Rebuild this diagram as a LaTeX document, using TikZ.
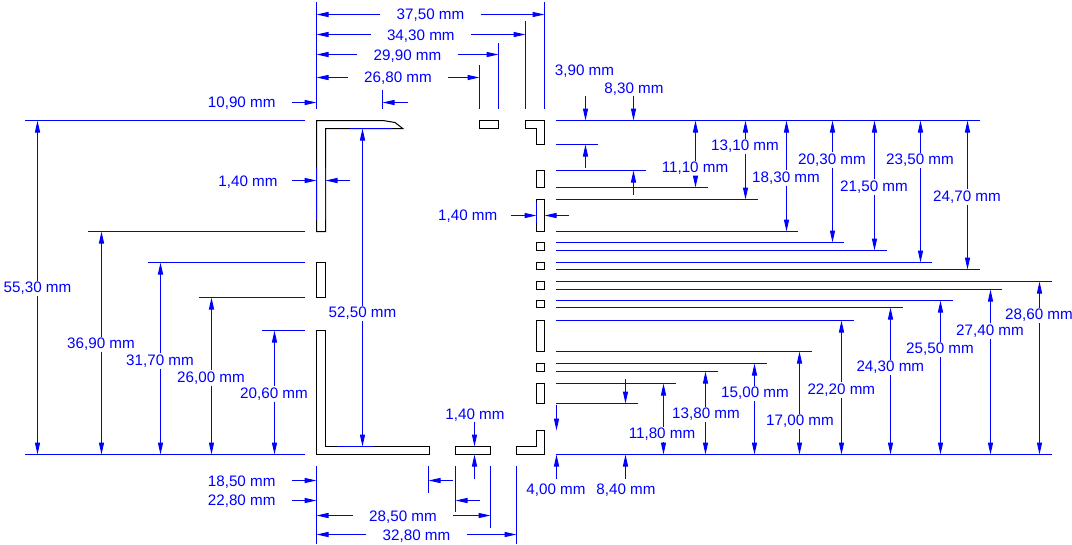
\documentclass[tikz,border=0pt]{standalone}
\usepackage{fontspec}
\setmainfont{Liberation Sans}
\usetikzlibrary{arrows.meta}
\definecolor{dimblue}{RGB}{0,0,255}
\tikzset{
  part/.style={draw=black,line width=.75pt,line join=miter,fill=white},
  extline/.style={draw=dimblue,line width=.75pt},
  dimline/.style={draw=dimblue,line width=.75pt,-{Triangle[length=9pt,width=3.8pt]}},
  lab/.style={text=dimblue,font=\fontsize{11.4}{13}\selectfont,inner sep=0pt,text height=8.2pt,text depth=1.8pt,align=center,yshift=-.7pt},
  vlab/.style={lab,inner ysep=.6pt,inner xsep=1pt},
  hlab/.style={lab,inner xsep=12pt},
}
% vertical dimension: name, x, ytop, ybottom, label x, label y, text
\newcommand{\vdim}[7]{%
  \node[vlab] (#1) at (#5,#6) {#7};
  \coordinate (#1-a) at (#2,#3);
  \coordinate (#1-b) at (#2,#4);
  \draw[dimline] (#1-a |- #1.north) -- (#1-a);
  \draw[dimline] (#1-b |- #1.south) -- (#1-b);
}
% horizontal dimension: name, y, xleft, xright, label x, label y, text
\newcommand{\hdim}[7]{%
  \node[hlab] (#1) at (#5,#6) {#7};
  \coordinate (#1-a) at (#3,#2);
  \coordinate (#1-b) at (#4,#2);
  \draw[dimline] (#1-a -| #1.west) -- (#1-a);
  \draw[dimline] (#1-b -| #1.east) -- (#1-b);
}
\newcommand{\hext}[3]{\draw[extline] (#2,#1) -- (#3,#1);}
\newcommand{\vext}[3]{\draw[extline] (#1,#2) -- (#1,#3);}
\newcommand{\slot}[4]{\draw[part] (#1,#3) rectangle (#2,#4);}
\begin{document}
\begin{tikzpicture}[x=.75pt,y=-.75pt]
\useasboundingbox (0,0) rectangle (1072,544);
% ---- parts
\draw[part] (316.5,120.5) -- (383,120.5) -- (395,122.5) -- (402.7,128.5) -- (325.5,128.5) -- (325.5,231.5) -- (316.5,231.5) -- cycle;
\slot{316.5}{325.5}{262.5}{297.5}
\draw[part] (316.5,330.5) -- (325.5,330.5) -- (325.5,446.5) -- (429.5,446.5) -- (429.5,454.5) -- (316.5,454.5) -- cycle;
\slot{455.5}{490.5}{446.5}{454.5}
\draw[part] (516.5,446.5) -- (536.5,446.5) -- (536.5,430.5) -- (544.5,430.5) -- (544.5,454.5) -- (516.5,454.5) -- cycle;
\slot{479.5}{498.5}{120.5}{128.5}
\draw[part] (525.5,120.5) -- (544.5,120.5) -- (544.5,144.5) -- (536.5,144.5) -- (536.5,128.5) -- (525.5,128.5) -- cycle;
\slot{536.5}{544.5}{170.5}{187.5}
\slot{536.5}{544.5}{199.5}{231.5}
\slot{536.5}{544.5}{242.5}{250.5}
\slot{536.5}{544.5}{262.5}{269.5}
\slot{536.5}{544.5}{281.5}{289.5}
\slot{536.5}{544.5}{300.5}{307.5}
\slot{536.5}{544.5}{320.5}{351.5}
\slot{536.5}{544.5}{363.5}{371.5}
\slot{536.5}{544.5}{383.5}{403.5}
% ---- right side extension lines
\hext{120.5}{556}{980}
\hext{144.5}{556}{598}
\hext{170.5}{556}{646}
\hext{187.5}{556}{707.7}
\hext{199.5}{556}{757.7}
\hext{231.5}{556}{798}
\hext{242.5}{556}{844}
\hext{250.5}{556}{887}
\hext{262.5}{556}{932}
\hext{269.5}{556}{980}
\hext{281.5}{556}{1052}
\hext{289.5}{556}{1002}
\hext{300.5}{556}{953}
\hext{307.5}{556}{903}
\hext{320.5}{556}{854}
\hext{351.5}{556}{812}
\hext{363.5}{556}{767}
\hext{371.5}{556}{718}
\hext{383.5}{556}{675.7}
\hext{403.5}{556}{638}
\hext{454.5}{556}{1052}
% ---- left side extension lines
\hext{120.5}{25}{305}
\hext{454.5}{25}{305}
\hext{231.5}{88}{305}
\hext{262.5}{147.5}{305}
\hext{297.5}{199}{305}
\hext{330.5}{262}{305}
% ---- top extension lines
\vext{316.5}{2}{108.5}
\vext{544.5}{2}{108.5}
\vext{525.5}{21}{108.5}
\vext{498.5}{43}{108.5}
\vext{479.5}{65}{108.5}
\vext{382.5}{90}{108.5}
% ---- bottom extension lines
\vext{316.5}{466}{544}
\vext{428.5}{466}{493}
\vext{455.5}{466}{512}
\vext{490.5}{466}{528}
\vext{516.5}{466}{544}
% ---- overlays on the parts
\vext{316.5}{168}{220}
\vext{325.5}{168}{220}
\vext{536.5}{202}{223}
\hext{128.5}{350}{392}
\hext{446.5}{337}{374}
% ---- top dimensions
\hdim{d3750}{14.5}{316.5}{544.5}{430.5}{14.5}{37,50 mm}
\hdim{d3430}{34.5}{316.5}{525.5}{420.8}{35}{34,30 mm}
\hdim{d2990}{54.5}{316.5}{498.5}{407.5}{55.5}{29,90 mm}
\hdim{d2680}{77.5}{316.5}{479.5}{398}{77.5}{26,80 mm}
\node[lab] (l1090) at (241.7,102.5) {10,90 mm};
\coordinate (a1090) at (292,102.5); \coordinate (b1090) at (316.5,102.5);
\coordinate (c1090) at (407.5,102.5); \coordinate (e1090) at (382.5,102.5);
\draw[dimline] (a1090) -- (b1090);
\draw[dimline] (c1090) -- (e1090);
\node[lab] (l140a) at (248,181) {1,40 mm};
\coordinate (a140a) at (292,180.5); \coordinate (b140a) at (316.5,180.5);
\coordinate (c140a) at (349.7,180.5); \coordinate (e140a) at (325.5,180.5);
\draw[dimline] (a140a) -- (b140a);
\draw[dimline] (c140a) -- (e140a);
\node[lab] (l140b) at (467.7,215.5) {1,40 mm};
\coordinate (a140b) at (511,215.5); \coordinate (b140b) at (536.5,215.5);
\coordinate (c140b) at (569,215.5); \coordinate (e140b) at (544.5,215.5);
\draw[dimline] (a140b) -- (b140b);
\draw[dimline] (c140b) -- (e140b);
% ---- centre
\vdim{d5250}{362.5}{128.5}{446.5}{362.5}{312.5}{52,50 mm}
% ---- left dimensions
\vdim{d5530}{37.5}{120.5}{454.5}{37.5}{287.7}{55,30 mm}
\vdim{d3690}{101.5}{231.5}{454.5}{101}{343.7}{36,90 mm}
\vdim{d3170}{160.5}{262.5}{454.5}{160}{360}{31,70 mm}
\vdim{d2600}{211.5}{297.5}{454.5}{211}{377}{26,00 mm}
\vdim{d2060}{274.5}{330.5}{454.5}{274}{393}{20,60 mm}
% ---- right upper dimensions
\node[lab] (l390) at (584.5,70) {3,90 mm};
\coordinate (a390) at (585.5,95.5); \coordinate (b390) at (585.5,120.5);
\coordinate (c390) at (585.5,168); \coordinate (e390) at (585.5,144.5);
\draw[dimline] (a390) -- (b390);
\draw[dimline] (c390) -- (e390);
\node[lab] (l830) at (634,88) {8,30 mm};
\coordinate (a830) at (633.5,95.5); \coordinate (b830) at (633.5,120.5);
\coordinate (c830) at (633.5,194.7); \coordinate (e830) at (633.5,170.5);
\draw[dimline] (a830) -- (b830);
\draw[dimline] (c830) -- (e830);
\vdim{d1110}{695.5}{120.5}{187.5}{695}{167.5}{11,10 mm}
\vdim{d1310}{745.5}{120.5}{199.5}{745}{145.7}{13,10 mm}
\vdim{d1830}{786.5}{120.5}{231.5}{786}{177}{18,30 mm}
\vdim{d2030}{832.5}{120.5}{242.5}{832}{159}{20,30 mm}
\vdim{d2150}{874.5}{120.5}{250.5}{874}{186}{21,50 mm}
\vdim{d2350}{920.5}{120.5}{262.5}{920}{159.5}{23,50 mm}
\vdim{d2470}{967.5}{120.5}{269.5}{967}{196}{24,70 mm}
% ---- right lower dimensions
\vdim{d1180}{663.5}{383.5}{454.5}{662}{433.3}{11,80 mm}
\vdim{d1380}{705.5}{371.5}{454.5}{706}{413.7}{13,80 mm}
\vdim{d1500}{754.5}{363.5}{454.5}{755}{392.7}{15,00 mm}
\vdim{d1700}{799.5}{351.5}{454.5}{800}{420.7}{17,00 mm}
\vdim{d2220}{841.5}{320.5}{454.5}{841.3}{389}{22,20 mm}
\vdim{d2430}{890.5}{307.5}{454.5}{890.3}{366.7}{24,30 mm}
\vdim{d2550}{940.5}{300.5}{454.5}{940}{348.7}{25,50 mm}
\vdim{d2740}{990.5}{289.5}{454.5}{990}{330}{27,40 mm}
\vdim{d2860}{1039.5}{281.5}{454.5}{1039}{314.7}{28,60 mm}
% ---- bottom right
\node[lab] (l400) at (556,489) {4,00 mm};
\coordinate (a400) at (556.5,479); \coordinate (b400) at (556.5,454.5);
\coordinate (c400) at (556.5,405); \coordinate (e400) at (556.5,430.5);
\draw[dimline] (a400) -- (b400);
\draw[dimline] (c400) -- (e400);
\node[lab] (l840) at (626,489) {8,40 mm};
\coordinate (a840) at (625.5,479); \coordinate (b840) at (625.5,454.5);
\coordinate (c840) at (625.5,379); \coordinate (e840) at (625.5,403.5);
\draw[dimline] (a840) -- (b840);
\draw[dimline] (c840) -- (e840);
% ---- bottom dimensions
\node[lab] (l140c) at (475,414) {1,40 mm};
\coordinate (a140c) at (474.5,421.7); \coordinate (b140c) at (474.5,446.5);
\coordinate (c140c) at (474.5,479); \coordinate (e140c) at (474.5,454.5);
\draw[dimline] (a140c) -- (b140c);
\draw[dimline] (c140c) -- (e140c);
\node[lab] (l1850) at (241.7,481.5) {18,50 mm};
\coordinate (a1850) at (292,480.5); \coordinate (b1850) at (316.5,480.5);
\coordinate (c1850) at (453.3,480.5); \coordinate (e1850) at (428.5,480.5);
\draw[dimline] (a1850) -- (b1850);
\draw[dimline] (c1850) -- (e1850);
\node[lab] (l2280) at (241.7,500.5) {22,80 mm};
\coordinate (a2280) at (292,500.5); \coordinate (b2280) at (316.5,500.5);
\coordinate (c2280) at (480,500.5); \coordinate (e2280) at (455.5,500.5);
\draw[dimline] (a2280) -- (b2280);
\draw[dimline] (c2280) -- (e2280);
\hdim{d2850}{515.5}{316.5}{490.5}{403}{516.5}{28,50 mm}
\hdim{d3280}{534.5}{316.5}{516.5}{416.5}{535}{32,80 mm}
\end{tikzpicture}
\end{document}
